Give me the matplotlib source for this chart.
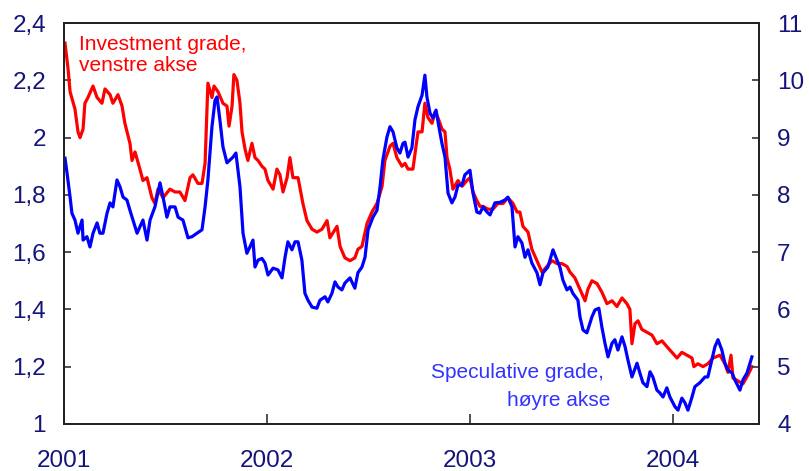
import matplotlib
matplotlib.use("Agg")
import matplotlib.pyplot as plt
import numpy as np

plt.rcParams['font.family'] = ['Liberation Sans', 'DejaVu Sans']

# Investment grade (venstre akse), x i desimalår
inv_x = [2001.005, 2001.020, 2001.030, 2001.054, 2001.069, 2001.079, 2001.094, 2001.103, 2001.118, 2001.143,
         2001.163, 2001.187, 2001.202, 2001.227, 2001.241, 2001.266, 2001.286, 2001.300, 2001.325, 2001.335,
         2001.350, 2001.374, 2001.389, 2001.409, 2001.433, 2001.448, 2001.463, 2001.488, 2001.522, 2001.547,
         2001.571, 2001.596, 2001.621, 2001.635, 2001.660, 2001.680, 2001.695, 2001.709, 2001.729, 2001.739,
         2001.759, 2001.783, 2001.803, 2001.813, 2001.828, 2001.837, 2001.852, 2001.867, 2001.877, 2001.892,
         2001.906, 2001.926, 2001.941, 2001.956, 2001.975, 2001.990, 2002.005, 2002.030, 2002.049, 2002.064,
         2002.079, 2002.099, 2002.113, 2002.128, 2002.153, 2002.177, 2002.197, 2002.222, 2002.246, 2002.271,
         2002.296, 2002.310, 2002.345, 2002.360, 2002.384, 2002.409, 2002.433, 2002.448, 2002.468, 2002.493,
         2002.517, 2002.542, 2002.567, 2002.581, 2002.606, 2002.621, 2002.640, 2002.665, 2002.680, 2002.695,
         2002.719, 2002.744, 2002.764, 2002.778, 2002.793, 2002.813, 2002.828, 2002.842, 2002.862, 2002.877,
         2002.887, 2002.901, 2002.916, 2002.941, 2002.961, 2002.985, 2003.000, 2003.015, 2003.034, 2003.049,
         2003.064, 2003.089, 2003.113, 2003.138, 2003.163, 2003.187, 2003.212, 2003.232, 2003.246, 2003.261,
         2003.286, 2003.305, 2003.330, 2003.355, 2003.379, 2003.404, 2003.429, 2003.453, 2003.478, 2003.493,
         2003.517, 2003.542, 2003.567, 2003.581, 2003.601, 2003.626, 2003.650, 2003.675, 2003.700, 2003.724,
         2003.749, 2003.773, 2003.788, 2003.798, 2003.813, 2003.828, 2003.847, 2003.872, 2003.897, 2003.921,
         2003.946, 2003.970, 2003.995, 2004.020, 2004.044, 2004.069, 2004.094, 2004.103, 2004.123, 2004.148,
         2004.172, 2004.197, 2004.232, 2004.256, 2004.271, 2004.286, 2004.296, 2004.320, 2004.345, 2004.369,
         2004.389]
inv_y = [2.33, 2.24, 2.16, 2.10, 2.02, 2.00, 2.03, 2.12, 2.14, 2.18,
         2.14, 2.12, 2.17, 2.15, 2.12, 2.15, 2.11, 2.05, 1.98, 1.92,
         1.95, 1.89, 1.85, 1.86, 1.79, 1.77, 1.82, 1.79, 1.82, 1.81,
         1.81, 1.78, 1.86, 1.87, 1.84, 1.84, 1.91, 2.19, 2.14, 2.18,
         2.16, 2.12, 2.11, 2.04, 2.11, 2.22, 2.20, 2.12, 2.02, 1.96,
         1.92, 1.98, 1.93, 1.92, 1.90, 1.89, 1.85, 1.82, 1.89, 1.87,
         1.81, 1.86, 1.93, 1.86, 1.86, 1.77, 1.71, 1.68, 1.67, 1.68,
         1.71, 1.65, 1.69, 1.62, 1.58, 1.57, 1.58, 1.61, 1.62, 1.70,
         1.74, 1.77, 1.83, 1.92, 1.97, 1.98, 1.93, 1.90, 1.91, 1.89,
         1.89, 2.02, 2.02, 2.12, 2.07, 2.05, 2.09, 2.07, 2.03, 2.02,
         1.93, 1.89, 1.82, 1.85, 1.83, 1.85, 1.86, 1.81, 1.78, 1.76,
         1.76, 1.75, 1.75, 1.77, 1.77, 1.79, 1.77, 1.74, 1.74, 1.69,
         1.67, 1.61, 1.57, 1.53, 1.55, 1.57, 1.56, 1.56, 1.55, 1.53,
         1.51, 1.47, 1.43, 1.47, 1.50, 1.49, 1.46, 1.42, 1.43, 1.41,
         1.44, 1.42, 1.40, 1.28, 1.35, 1.36, 1.33, 1.32, 1.31, 1.28,
         1.29, 1.27, 1.25, 1.23, 1.25, 1.24, 1.23, 1.20, 1.21, 1.20,
         1.21, 1.23, 1.24, 1.21, 1.18, 1.24, 1.16, 1.15, 1.14, 1.17,
         1.20]

# Speculative grade (høyre akse)
spec_x = [2001.005, 2001.015, 2001.030, 2001.039, 2001.054, 2001.069, 2001.089, 2001.094, 2001.113, 2001.128,
          2001.143, 2001.163, 2001.177, 2001.192, 2001.212, 2001.227, 2001.241, 2001.261, 2001.276, 2001.291,
          2001.310, 2001.325, 2001.340, 2001.360, 2001.374, 2001.389, 2001.409, 2001.424, 2001.448, 2001.473,
          2001.488, 2001.507, 2001.522, 2001.547, 2001.562, 2001.586, 2001.611, 2001.631, 2001.655, 2001.680,
          2001.695, 2001.709, 2001.729, 2001.744, 2001.754, 2001.768, 2001.783, 2001.803, 2001.818, 2001.833,
          2001.847, 2001.857, 2001.867, 2001.882, 2001.901, 2001.916, 2001.931, 2001.941, 2001.956, 2001.975,
          2001.990, 2002.005, 2002.030, 2002.054, 2002.074, 2002.089, 2002.103, 2002.123, 2002.138, 2002.153,
          2002.172, 2002.187, 2002.202, 2002.222, 2002.246, 2002.261, 2002.286, 2002.300, 2002.320, 2002.335,
          2002.350, 2002.369, 2002.384, 2002.409, 2002.433, 2002.448, 2002.468, 2002.483, 2002.498, 2002.522,
          2002.542, 2002.557, 2002.571, 2002.591, 2002.606, 2002.621, 2002.640, 2002.655, 2002.670, 2002.680,
          2002.695, 2002.714, 2002.729, 2002.744, 2002.764, 2002.778, 2002.788, 2002.803, 2002.818, 2002.833,
          2002.847, 2002.862, 2002.877, 2002.892, 2002.911, 2002.926, 2002.941, 2002.961, 2002.975, 2003.000,
          2003.015, 2003.034, 2003.049, 2003.064, 2003.084, 2003.099, 2003.123, 2003.148, 2003.172, 2003.187,
          2003.207, 2003.222, 2003.236, 2003.256, 2003.271, 2003.286, 2003.305, 2003.330, 2003.345, 2003.360,
          2003.384, 2003.409, 2003.429, 2003.443, 2003.458, 2003.478, 2003.493, 2003.507, 2003.532, 2003.542,
          2003.557, 2003.576, 2003.601, 2003.616, 2003.635, 2003.650, 2003.665, 2003.680, 2003.700, 2003.714,
          2003.729, 2003.749, 2003.764, 2003.778, 2003.798, 2003.823, 2003.837, 2003.852, 2003.872, 2003.887,
          2003.901, 2003.921, 2003.936, 2003.951, 2003.970, 2003.985, 2004.010, 2004.025, 2004.044, 2004.059,
          2004.074, 2004.094, 2004.108, 2004.133, 2004.158, 2004.172, 2004.192, 2004.207, 2004.222, 2004.241,
          2004.256, 2004.271, 2004.291, 2004.305, 2004.330, 2004.345, 2004.365, 2004.389]
spec_y = [8.64, 8.38, 7.96, 7.68, 7.56, 7.33, 7.56, 7.21, 7.27, 7.09,
          7.33, 7.51, 7.33, 7.33, 7.68, 7.86, 7.79, 8.26, 8.14, 7.96,
          7.91, 7.73, 7.56, 7.33, 7.44, 7.56, 7.21, 7.56, 7.79, 8.21,
          7.96, 7.61, 7.79, 7.79, 7.61, 7.56, 7.25, 7.27, 7.33, 7.39,
          7.79, 8.26, 9.19, 9.65, 9.71, 9.31, 8.84, 8.56, 8.61, 8.66,
          8.73, 8.43, 8.14, 7.33, 6.98, 7.09, 7.21, 6.74, 6.86, 6.89,
          6.81, 6.60, 6.72, 6.69, 6.55, 6.91, 7.18, 7.04, 7.18, 7.18,
          6.86, 6.28, 6.16, 6.04, 6.02, 6.16, 6.22, 6.13, 6.28, 6.48,
          6.39, 6.34, 6.46, 6.55, 6.37, 6.64, 6.74, 6.91, 7.39, 7.61,
          7.73, 8.14, 8.61, 9.01, 9.19, 9.10, 8.82, 8.73, 8.90, 8.92,
          8.66, 8.82, 9.31, 9.54, 9.74, 10.09, 9.71, 9.43, 9.34, 9.48,
          9.19, 8.90, 8.66, 8.03, 7.86, 7.96, 8.17, 8.17, 8.35, 8.43,
          8.03, 7.70, 7.68, 7.79, 7.70, 7.65, 7.86, 7.87, 7.91, 7.96,
          7.79, 7.09, 7.27, 7.16, 6.91, 7.04, 6.81, 6.64, 6.43, 6.64,
          6.74, 7.04, 6.86, 6.74, 6.51, 6.34, 6.39, 6.28, 6.16, 5.87,
          5.64, 5.59, 5.87, 5.99, 6.02, 5.69, 5.41, 5.17, 5.41, 5.47,
          5.29, 5.52, 5.35, 5.12, 4.82, 5.06, 4.89, 4.72, 4.65, 4.91,
          4.82, 4.59, 4.54, 4.47, 4.63, 4.47, 4.30, 4.24, 4.45, 4.37,
          4.24, 4.47, 4.65, 4.72, 4.82, 4.82, 5.12, 5.35, 5.47, 5.29,
          5.06, 4.94, 4.89, 4.77, 4.59, 4.77, 4.89, 5.17]

years = [2001, 2002, 2003, 2004]
left_ticks = [1, 1.2, 1.4, 1.6, 1.8, 2, 2.2, 2.4]
left_labels = ['1', '1,2', '1,4', '1,6', '1,8', '2', '2,2', '2,4']
right_ticks = [4, 5, 6, 7, 8, 9, 10, 11]

navy = '#14147a'

fig = plt.figure(figsize=(8.09, 4.71), dpi=100)
ax = fig.add_axes([0.0791, 0.100, 0.8591, 0.851])
ax2 = ax.twinx()

ax.plot(inv_x, inv_y, color='#ff0000', linewidth=2.3)
ax2.plot(spec_x, spec_y, color='#0000ff', linewidth=2.3)

ax.set_xlim(2001, 2004.424)
ax.set_ylim(1, 2.4)
ax2.set_ylim(4, 11)

ax.set_xticks(years)
ax.set_xticklabels([str(y) for y in years])
ax.set_yticks(left_ticks)
ax.set_yticklabels(left_labels)
ax2.set_yticks(right_ticks)
ax2.set_yticklabels([str(t) for t in right_ticks])

ax.tick_params(axis='x', direction='in', length=7, width=1.2, pad=19,
               labelsize=17.5, labelcolor=navy, color='#333333')
ax.tick_params(axis='y', direction='in', length=5, width=1.2, pad=13,
               labelsize=17.5, labelcolor=navy, color='#333333')
ax2.tick_params(axis='y', direction='in', length=5, width=1.2, pad=13,
                labelsize=17.5, labelcolor=navy, color='#333333')

for a in (ax, ax2):
    for s in a.spines.values():
        s.set_linewidth(1.3)
        s.set_color('#222222')

ax.text(0.021, 0.97, 'Investment grade,\nvenstre akse', transform=ax.transAxes,
        color='#ff0000', fontsize=15, va='top', ha='left', linespacing=1.1)
ax2.text(0.528, 0.115, 'Speculative grade,', transform=ax.transAxes,
         color='#3333ff', fontsize=15, va='baseline', ha='left')
ax2.text(0.638, 0.045, 'høyre akse', transform=ax.transAxes,
         color='#3333ff', fontsize=15, va='baseline', ha='left')

fig.savefig('out.png', dpi=100)
